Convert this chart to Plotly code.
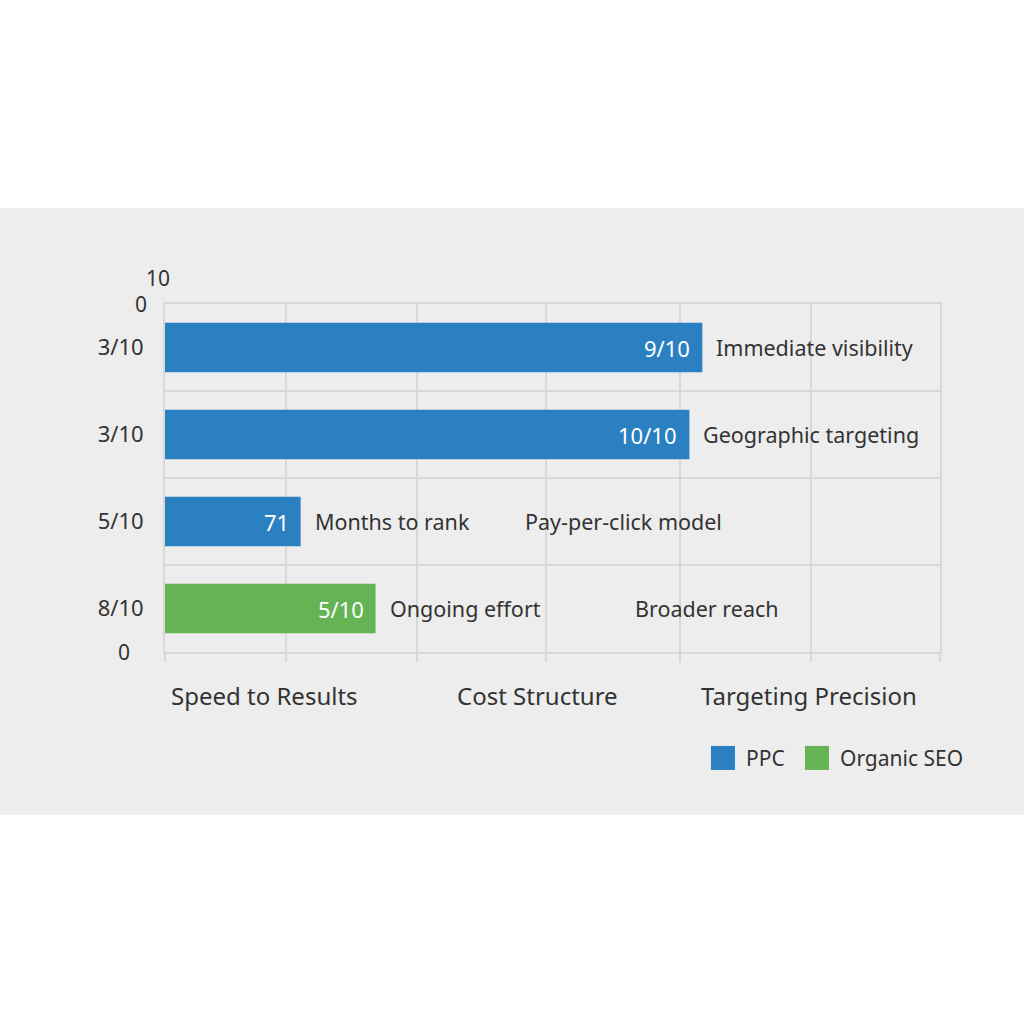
import plotly.graph_objects as go

# ---------------- data ----------------
row_labels = ["3/10", "3/10", "5/10", "8/10"]
row_positions = [1, 2, 3, 4]

ppc_rows = [1, 2, 3]
ppc_values = [4.16, 4.06, 1.05]
ppc_text = ["9/10", "10/10", "71"]

seo_rows = [4]
seo_values = [1.63]
seo_text = ["5/10"]

side_notes = ["Immediate visibility", "Geographic targeting", "Months to rank", "Ongoing effort"]
side_note_values = [4.16, 4.06, 1.05, 1.63]

extra_notes = ["Pay-per-click model", "Broader reach"]
extra_note_rows = [3, 4]
extra_note_x = [2.77, 3.62]

categories = ["Speed to Results", "Cost Structure", "Targeting Precision"]
category_x = [0.128, 0.481, 0.831]

grid_ticks = [0, 0.94, 1.95, 2.95, 3.99, 5, 6]

series_names = ["PPC", "Organic SEO"]

# ---------------- style ----------------
BLUE = "#2b80c2"
GREEN = "#64b456"
BAND = "#ededed"
GRID = "#d8d8d8"
TXT = "#333333"
FONT = "Noto Sans"

fig = go.Figure()
fig.add_trace(go.Bar(
    y=ppc_rows, x=ppc_values, orientation="h", name=series_names[0],
    marker=dict(color=BLUE, line=dict(width=0)), width=0.57,
    text=ppc_text, textposition="none", hoverinfo="x+y+text",
    showlegend=False,
))
fig.add_trace(go.Bar(
    y=seo_rows, x=seo_values, orientation="h", name=series_names[1],
    marker=dict(color=GREEN, line=dict(width=0)), width=0.57,
    text=seo_text, textposition="none", hoverinfo="x+y+text",
    showlegend=False,
))

annotations = []
# in-bar value labels
for rows, vals, texts in ((ppc_rows, ppc_values, ppc_text), (seo_rows, seo_values, seo_text)):
    for r, v, t in zip(rows, vals, texts):
        annotations.append(dict(x=v, y=r, xref="x", yref="y", text=t, showarrow=False,
                                xanchor="right", xshift=-10,
                                font=dict(size=22, color="white", family=FONT)))
for r, v, t in zip(row_positions, side_note_values, side_notes):
    annotations.append(dict(x=v, y=r, xref="x", yref="y", text=t, showarrow=False,
                            xanchor="left", xshift=12,
                            font=dict(size=21.5, color=TXT, family=FONT)))
for r, xv, t in zip(extra_note_rows, extra_note_x, extra_notes):
    annotations.append(dict(x=xv, y=r, xref="x", yref="y", text=t, showarrow=False,
                            xanchor="left",
                            font=dict(size=21.5, color=TXT, family=FONT)))
for cx, t in zip(category_x, categories):
    annotations.append(dict(x=cx, y=0, xref="paper", yref="paper", text=t, showarrow=False,
                            xanchor="center", yanchor="middle", yshift=-43,
                            font=dict(size=24, color=TXT, family=FONT)))
# extra axis-end labels
annotations.append(dict(x=-0.009, y=1.075, xref="paper", yref="paper", text="10", showarrow=False,
                        xanchor="center", yanchor="middle", font=dict(size=21, color=TXT, family=FONT)))
annotations.append(dict(x=0, y=1, xref="paper", yref="paper", text="0", showarrow=False,
                        xanchor="right", yanchor="middle", xshift=-16,
                        font=dict(size=21, color=TXT, family=FONT)))
annotations.append(dict(x=0, y=0, xref="paper", yref="paper", text="0", showarrow=False,
                        xanchor="right", yanchor="middle", xshift=-33,
                        font=dict(size=21, color=TXT, family=FONT)))

# manual legend
legend_colors = [BLUE, GREEN]
legend_x0 = [0.7045, 0.8258]
shapes = [dict(type="rect", xref="paper", yref="paper", x0=-0.3, x1=1.2, y0=-0.468, y1=1.276,
               fillcolor=BAND, line=dict(width=0), layer="below")]
for name, col, lx in zip(series_names, legend_colors, legend_x0):
    shapes.append(dict(type="rect", xref="paper", yref="paper", x0=lx, x1=lx + 0.031,
                       y0=-0.339, y1=-0.270, fillcolor=col, line=dict(width=0)))
    annotations.append(dict(x=lx + 0.042, y=-0.3045, xref="paper", yref="paper", text=name,
                            showarrow=False, xanchor="left", yanchor="middle",
                            font=dict(size=21, color=TXT, family=FONT)))

fig.update_layout(
    width=1024, height=1024,
    margin=dict(l=165, r=84, t=304, b=372, pad=0),
    paper_bgcolor="white", plot_bgcolor=BAND,
    barmode="overlay",
    font=dict(family=FONT, color=TXT),
    shapes=shapes, annotations=annotations,
    showlegend=False,
    xaxis=dict(range=[0, 6], tickmode="array", tickvals=grid_ticks,
               showgrid=True, gridcolor=GRID, gridwidth=2,
               showticklabels=False, zeroline=False, showline=True, mirror=True,
               linecolor=GRID, linewidth=2, ticks="outside", ticklen=8, tickcolor=GRID, tickwidth=2),
    yaxis=dict(range=[4.5, 0.5], tickmode="array", tickvals=row_positions, ticktext=row_labels,
               showgrid=False, zeroline=False, ticks="", ticklabelstandoff=15,
               tickfont=dict(size=22, color=TXT, family=FONT),
               showline=True, mirror=True, linecolor=GRID, linewidth=2,
               minor=dict(tickmode="array", tickvals=[0.5, 1.5, 2.5, 3.5, 4.5],
                          showgrid=True, gridcolor=GRID, gridwidth=2, ticks="")),
)

fig.write_html("out.html")
